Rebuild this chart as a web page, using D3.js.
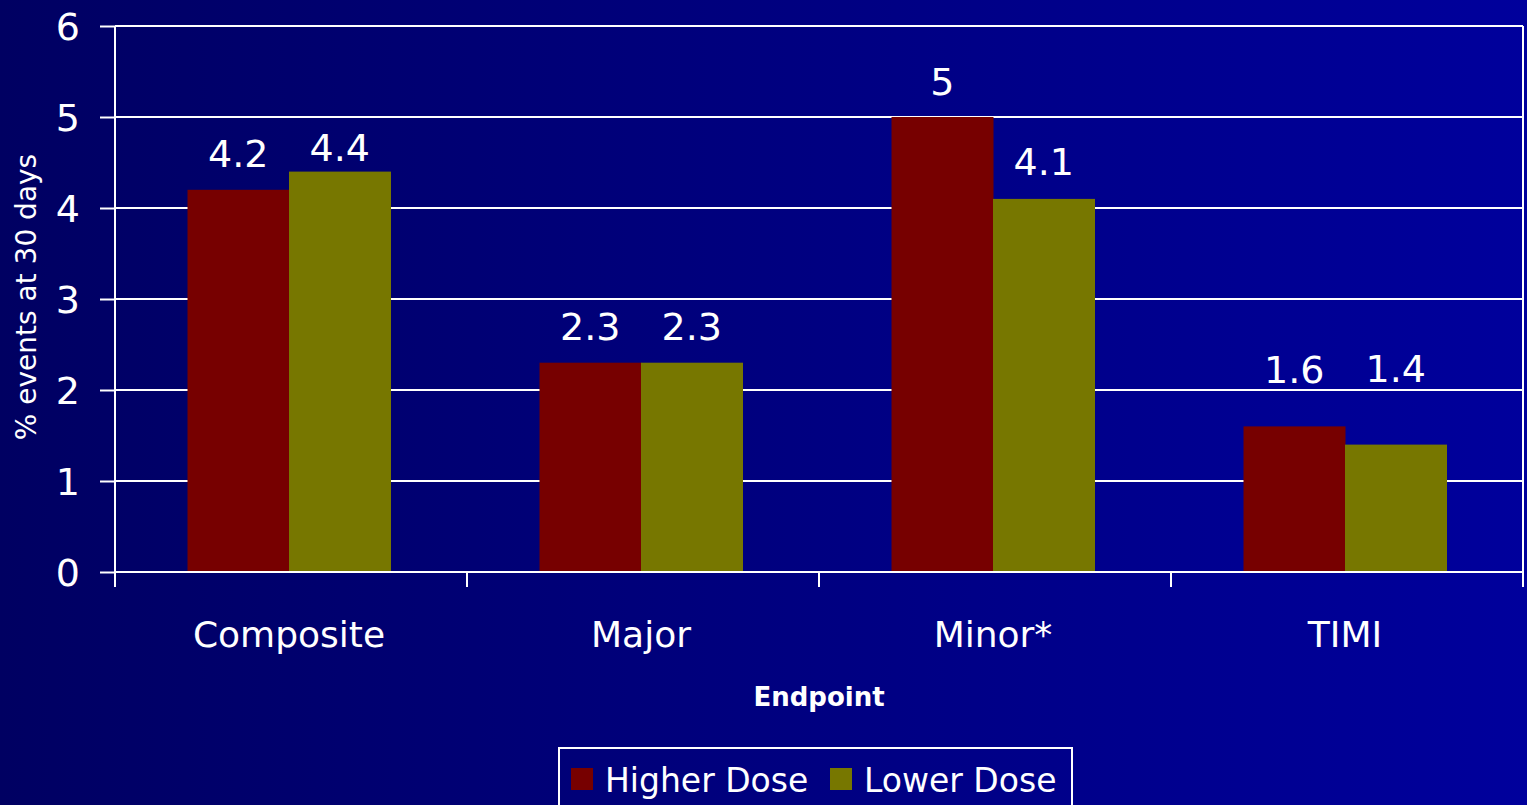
<!DOCTYPE html>
<html><head><meta charset="utf-8">
<script src="https://cdn.jsdelivr.net/npm/d3@7"></script>
<style>html,body{margin:0;padding:0;overflow:hidden;background:#000066}</style>
</head><body>
<svg id="chart" width="1527" height="805"></svg>
<script>
const categories = ["Composite", "Major", "Minor*", "TIMI"];
const seriesNames = ["Higher Dose", "Lower Dose"];
const higherDose = [4.2, 2.3, 5, 1.6];
const lowerDose = [4.4, 2.3, 4.1, 1.4];
const yTicks = [0, 1, 2, 3, 4, 5, 6];
const colors = ["#770000", "#777700"];
// extra upward nudge (px) of each value label, [higher, lower] per category
const labelNudge = [[0, -12], [0, 0], [-1, 1], [20, 40]];

const W = 1527, H = 805;
const svg = d3.select("#chart");
const defs = svg.append("defs");
const grad = defs.append("linearGradient").attr("id","bg").attr("x1","0").attr("x2","1").attr("y1","0").attr("y2","0");
grad.append("stop").attr("offset","0").attr("stop-color","#000062");
grad.append("stop").attr("offset","1").attr("stop-color","#00009c");
svg.append("rect").attr("width",W).attr("height",H).attr("fill","url(#bg)");

const m = {l:115, r:1523, t:26, b:572};
const x0 = d3.scaleBand().domain(categories).range([m.l, m.r]).paddingInner(0).paddingOuter(0);
const groupW = 203;
const x1 = d3.scaleBand().domain(seriesNames).range([0, groupW]);
const y = d3.scaleLinear().domain([0, 6]).range([m.b, m.t]);
const font = "'DejaVu Sans', Verdana, Tahoma, sans-serif";

// gridlines
svg.append("g").selectAll("line").data(yTicks.filter(d=>d>0)).join("line")
  .attr("x1", m.l).attr("x2", m.r).attr("y1", d=>y(d)).attr("y2", d=>y(d))
  .attr("stroke","#fff").attr("stroke-width",2);
// right border
svg.append("line").attr("x1",m.r).attr("x2",m.r).attr("y1",m.t).attr("y2",m.b).attr("stroke","#fff").attr("stroke-width",2);

// bars
const data = categories.map((c,i)=>({c, i, vals:[higherDose[i], lowerDose[i]]}));
const groups = svg.append("g").selectAll("g").data(data).join("g")
  .attr("transform", d=>`translate(${x0(d.c)+x0.bandwidth()/2-groupW/2-2},0)`);
groups.selectAll("rect").data(d=>d.vals.map((v,j)=>({v, s:seriesNames[j], j}))).join("rect")
  .attr("x", d=>x1(d.s)).attr("width", x1.bandwidth()+0.5)
  .attr("y", d=>y(d.v)).attr("height", d=>y(0)-y(d.v))
  .attr("fill", d=>colors[d.j]);
groups.selectAll("text").data(d=>d.vals.map((v,j)=>({v, s:seriesNames[j], j, i:d.i}))).join("text")
  .attr("x", d=>x1(d.s)+x1.bandwidth()/2).attr("y", d=>y(d.v)-23-labelNudge[d.i][d.j])
  .attr("text-anchor","middle").attr("fill","#fff")
  .attr("font-family",font).attr("font-size",38)
  .text(d=>d.v);

// axes
const yAxis = d3.axisLeft(y).tickValues(yTicks).tickSize(15).tickPadding(20).tickFormat(d3.format("d"));
const gy = svg.append("g").attr("transform",`translate(${m.l},0)`).call(yAxis);
gy.select(".domain").attr("stroke","#fff").attr("stroke-width",2).attr("d",`M0,${m.t}V${m.b}`);
gy.selectAll(".tick line").attr("stroke","#fff").attr("stroke-width",2);
gy.selectAll(".tick text").attr("fill","#fff").attr("font-family",font).attr("font-size",38).attr("dy","0.36em");

const xEdges = d3.range(categories.length+1).map(i=>m.l + i*x0.step());
svg.append("line").attr("x1",m.l).attr("x2",m.r).attr("y1",m.b).attr("y2",m.b).attr("stroke","#fff").attr("stroke-width",2);
svg.append("g").selectAll("line").data(xEdges).join("line")
  .attr("x1",d=>d).attr("x2",d=>d).attr("y1",m.b).attr("y2",m.b+15)
  .attr("stroke","#fff").attr("stroke-width",2);
svg.append("g").selectAll("text").data(categories).join("text")
  .attr("x", d=>x0(d)+x0.bandwidth()/2-2).attr("y", 647)
  .attr("text-anchor","middle").attr("fill","#fff")
  .attr("font-family",font).attr("font-size",36).text(d=>d);

// axis titles
svg.append("text").attr("x",819).attr("y",706).attr("text-anchor","middle")
  .attr("fill","#fff").attr("font-family",font).attr("font-weight","bold").attr("font-size",26).text("Endpoint");
svg.append("text").attr("transform","translate(36,297) rotate(-90)").attr("text-anchor","middle")
  .attr("fill","#fff").attr("font-family",font).attr("font-size",28).text("% events at 30 days");

// legend
const lg = svg.append("g");
lg.append("rect").attr("x",559).attr("y",748).attr("width",513).attr("height",70)
  .attr("fill","none").attr("stroke","#fff").attr("stroke-width",2);
const legX = [571, 830];
seriesNames.forEach((s,i)=>{
  lg.append("rect").attr("x",legX[i]).attr("y",768).attr("width",22).attr("height",22).attr("fill",colors[i]);
  lg.append("text").attr("x",legX[i]+34).attr("y",792).attr("fill","#fff")
    .attr("font-family",font).attr("font-size",33).text(s);
});
</script>
</body></html>
